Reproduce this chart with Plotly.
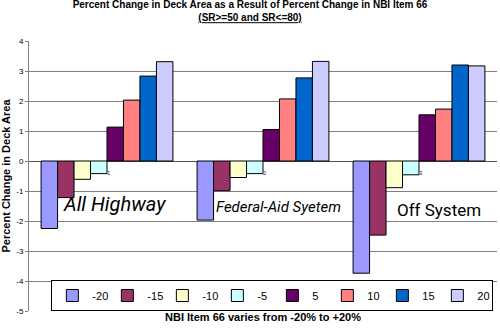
import plotly.graph_objects as go

categories = [1, 2, 3]
category_labels = ["1", "2", "3"]
group_names = ["All Highway", "Federal-Aid Syetem", "Off System"]
series_names = ["-20", "-15", "-10", "-5", "5", "10", "15", "20"]
values = {
    "-20": [-2.25, -1.97, -3.74],
    "-15": [-1.22, -0.99, -2.47],
    "-10": [-0.61, -0.55, -0.89],
    "-5": [-0.42, -0.42, -0.46],
    "5": [1.13, 1.05, 1.54],
    "10": [2.03, 2.07, 1.73],
    "15": [2.83, 2.77, 3.2],
    "20": [3.31, 3.32, 3.17],
}
colors = ["#9999FF", "#993366", "#FFFFCC", "#CCFFFF", "#660066", "#FF8080", "#0066CC", "#CCCCFF"]
y_ticks = [4, 3, 2, 1, 0, -1, -2, -3, -4, -5]

fig = go.Figure()
for name, col in zip(series_names, colors):
    fig.add_trace(go.Bar(
        x=categories, y=values[name], name=name,
        marker=dict(color=col, line=dict(color="#000000", width=1)),
    ))

label_font = "Roboto, Liberation Sans, sans-serif"
label_pos = [(1.045, -1.43, 20, True), (2.10, -1.53, 15, True), (3.13, -1.63, 17, False)]
for txt, (xx, yy, sz, it) in zip(group_names, label_pos):
    fig.add_annotation(x=xx, y=yy, xref="x", yref="y", text=("<i>%s</i>" % txt) if it else txt,
                       showarrow=False,
                       font=dict(family=label_font, size=sz, color="#000000"))

for c, lab in zip(categories, category_labels):
    fig.add_annotation(x=c, y=0, xref="x", yref="y", text=lab, showarrow=False,
                       xshift=2, yshift=-12, font=dict(family="Liberation Sans, Arial", size=6, color="#333333"))

fig.update_layout(
    width=500, height=328,
    margin=dict(l=29, r=3, t=41, b=17),
    paper_bgcolor="white", plot_bgcolor="white",
    barmode="group", bargap=0.155, bargroupgap=0,
    font=dict(family="Liberation Sans, Arial, sans-serif", color="#000000"),
    title=dict(
        text="Percent Change in Deck Area as a Result of Percent Change in NBI Item 66<br><u>(SR>=50 and SR<=80)</u>",
        x=0.5, xref="container", xanchor="center", y=0.975, yref="container", yanchor="top",
        font=dict(size=10, family="Liberation Sans, Arial, sans-serif", weight="bold"),
    ),
    xaxis=dict(
        range=[0.5, 3.5], showticklabels=False, showgrid=False, zeroline=False,
        showline=False, ticks="",
        title=dict(text="<b>NBI Item 66 varies from -20% to +20%</b>", font=dict(size=11), standoff=2),
    ),
    yaxis=dict(
        range=[-5, 4], tickvals=y_ticks, ticktext=[str(v) for v in y_ticks],
        showgrid=True, gridcolor="#808080", gridwidth=1,
        zeroline=True, zerolinecolor="#555555", zerolinewidth=1,
        showline=True, linecolor="#808080", linewidth=1,
        ticks="outside", ticklen=3, tickcolor="#808080",
        tickfont=dict(size=8, color="#000000"),
        title=dict(text="<b>Percent Change in Deck Area</b>", font=dict(size=11), standoff=4),
    ),
    legend=dict(
        orientation="h", x=0.52, y=0.0, xanchor="center", yanchor="bottom",
        bgcolor="white", bordercolor="#000000", borderwidth=1,
        font=dict(size=11), itemwidth=30, tracegroupgap=0,
        entrywidth=10, entrywidthmode="pixels",
    ),
)

fig.write_html("out.html")
